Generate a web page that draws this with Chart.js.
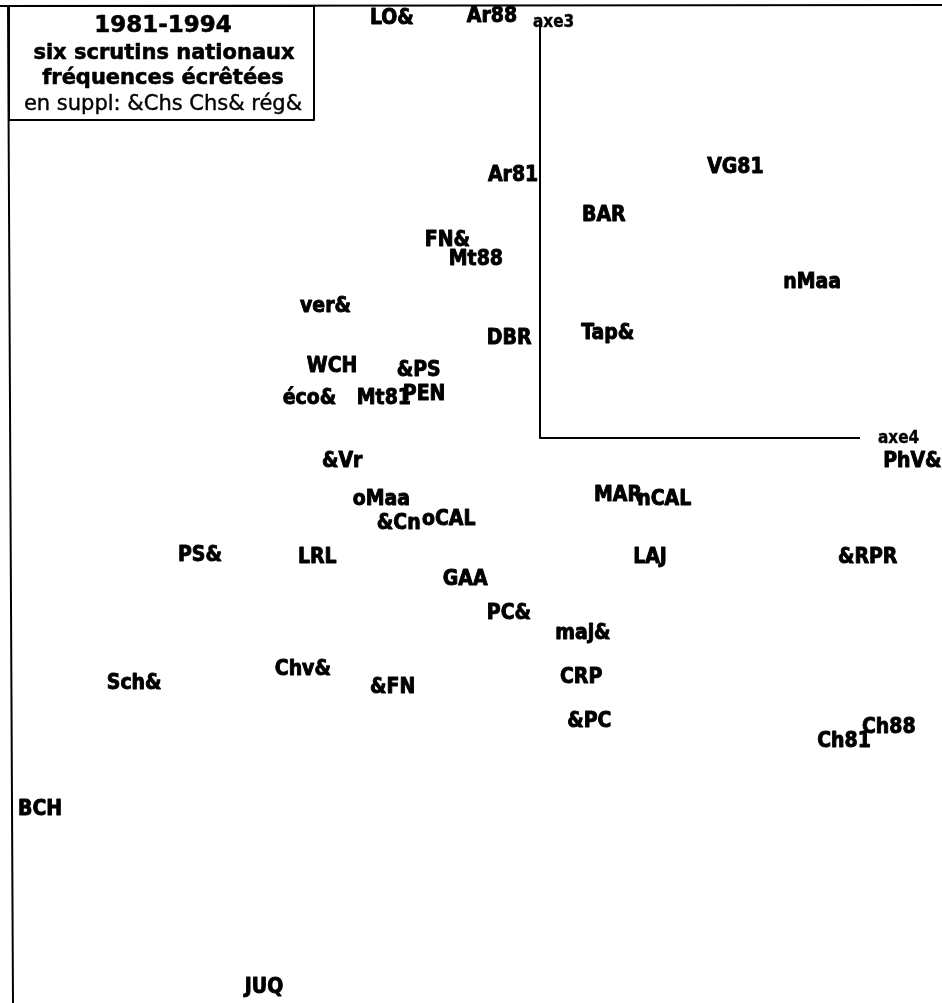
<!DOCTYPE html>
<html>
<head>
<meta charset="utf-8">
<script src="https://cdn.jsdelivr.net/npm/chart.js@4/dist/chart.umd.min.js"></script>
<style>
  html, body { margin: 0; padding: 0; background: #fff; }
  #wrap { width: 942px; height: 1003px; position: relative; }
</style>
</head>
<body>
<div id="wrap"><canvas id="c" width="942" height="1003"></canvas></div>
<script>
// Modalités projetées sur le plan des axes 4 (horizontal) et 3 (vertical)
const pointLabels = [
  'LO&', 'Ar88', 'Ar81', 'BAR', 'VG81', 'FN&', 'Mt88', 'nMaa', 'ver&', 'DBR',
  'Tap&', 'WCH', '&PS', 'éco&', 'Mt81', 'PEN', '&Vr', 'PhV&', 'oMaa', 'MAR',
  'nCAL', '&Cn', 'oCAL', 'PS&', 'LRL', 'LAJ', '&RPR', 'GAA', 'PC&', 'maj&',
  'Chv&', 'CRP', 'Sch&', '&FN', '&PC', 'Ch88', 'Ch81', 'BCH', 'JUQ'
];
const axe4Values = [
  -0.425, -0.183, -0.130, 0.105, 0.418, -0.288, -0.228, 0.608, -0.600, -0.133,
  0.103, -0.583, -0.358, -0.643, -0.458, -0.343, -0.545, 0.858, -0.468, 0.135,
  0.243, -0.408, -0.295, -0.905, -0.605, 0.233, 0.745, -0.243, -0.133, 0.038,
  -0.663, 0.050, -1.083, -0.425, 0.068, 0.805, 0.693, -1.305, -0.738
];
const axe3Values = [
  1.048, 1.053, 0.655, 0.555, 0.675, 0.493, 0.445, 0.388, 0.328, 0.248,
  0.260, 0.178, 0.168, 0.098, 0.098, 0.108, -0.060, -0.058, -0.155, -0.143,
  -0.155, -0.215, -0.205, -0.295, -0.298, -0.298, -0.298, -0.355, -0.438, -0.488,
  -0.578, -0.598, -0.613, -0.623, -0.708, -0.725, -0.758, -0.928, -1.375
];
const titleLines = ['1981-1994', 'six scrutins nationaux', 'fréquences écrêtées', 'en suppl: &Chs Chs& rég&'];
const axisNames = ['axe4', 'axe3'];
// extent of the drawn axis segments (in axis units)
const axe4Length = 0.80;
const axe3Length = 1.04;

const points = pointLabels.map((t, i) => ({ x: axe4Values[i], y: axe3Values[i], name: t }));

const COND = '"DejaVu Sans Condensed", "DejaVu Sans", sans-serif';
const WIDE = '"DejaVu Sans", sans-serif';

function heavyText(ctx, text, x, y, w) {
  ctx.lineWidth = w;
  ctx.strokeText(text, x, y);
  ctx.fillText(text, x, y);
}

const plotDecor = {
  id: 'plotDecor',
  afterDatasetsDraw(chart) {
    const ctx = chart.ctx;
    const xs = chart.scales.x, ys = chart.scales.y;
    ctx.save();
    ctx.strokeStyle = '#000';
    ctx.fillStyle = '#000';
    ctx.lineJoin = 'round';

    // page frame: top and left rules
    ctx.lineWidth = 2;
    ctx.beginPath();
    ctx.moveTo(0, 6); ctx.lineTo(942, 5);
    ctx.moveTo(8, 5); ctx.lineTo(13, 1003);
    ctx.stroke();

    // axis segments from the origin
    const ox = xs.getPixelForValue(0), oy = ys.getPixelForValue(0);
    ctx.lineWidth = 2;
    ctx.beginPath();
    ctx.moveTo(ox, ys.getPixelForValue(axe3Length));
    ctx.lineTo(ox, oy);
    ctx.lineTo(xs.getPixelForValue(axe4Length), oy);
    ctx.stroke();

    // axis names
    ctx.font = 'bold 17px ' + COND;
    ctx.textBaseline = 'middle';
    ctx.textAlign = 'left';
    heavyText(ctx, axisNames[0], xs.getPixelForValue(axe4Length) + 18, oy + 1, 0.4);
    heavyText(ctx, axisNames[1], ox - 7, 23, 0.4);

    // point labels, anchored at their left edge
    ctx.font = 'bold 21px ' + COND;
    const meta = chart.getDatasetMeta(0);
    meta.data.forEach((el, i) => {
      heavyText(ctx, points[i].name, el.x, el.y, 0.9);
    });

    // title box
    ctx.lineWidth = 2;
    ctx.fillStyle = '#fff';
    ctx.fillRect(9, 6, 305, 114);
    ctx.strokeRect(9, 6, 305, 114);
    ctx.fillStyle = '#000';
    ctx.textAlign = 'center';
    ctx.font = 'bold 23px ' + WIDE;
    heavyText(ctx, titleLines[0], 163, 26, 0.6);
    ctx.font = 'bold 21px ' + WIDE;
    heavyText(ctx, titleLines[1], 164, 54, 0.6);
    heavyText(ctx, titleLines[2], 163, 79, 0.6);
    ctx.font = '21px ' + WIDE;
    heavyText(ctx, titleLines[3], 163, 105, 0.4);
    ctx.restore();
  }
};

new Chart(document.getElementById('c'), {
  type: 'scatter',
  data: {
    datasets: [{
      data: points,
      pointRadius: 0,
      pointHoverRadius: 0,
      backgroundColor: '#000'
    }]
  },
  options: {
    responsive: false,
    animation: false,
    layout: { padding: 0 },
    plugins: { legend: { display: false }, tooltip: { enabled: false } },
    scales: {
      x: { type: 'linear', min: -1.35, max: 1.005, display: false },
      y: { type: 'linear', min: -1.4125, max: 1.095, display: false }
    }
  },
  plugins: [plotDecor]
});
</script>
</body>
</html>
